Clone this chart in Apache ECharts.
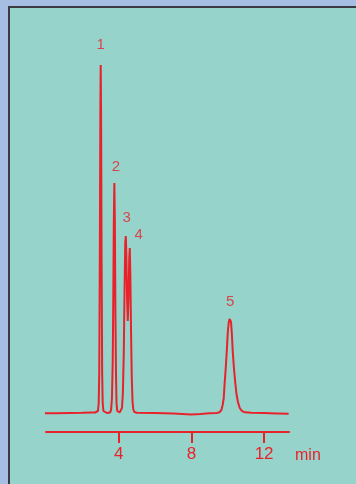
<!DOCTYPE html>
<html>
<head>
<meta charset="utf-8">
<script src="https://cdn.jsdelivr.net/npm/echarts@6/dist/echarts.min.js"></script>
<style>
html,body{margin:0;padding:0;width:356px;height:484px;overflow:hidden;background:#a6bee3;}
#panel{position:absolute;left:8px;top:6px;right:0;bottom:0;background:#96d4cb;border-left:2px solid #3a3a40;border-top:2px solid #3a3a40;}
#chart{position:absolute;left:0;top:0;width:356px;height:484px;}
</style>
</head>
<body>
<div id="panel"></div>
<div id="chart"></div>
<script>
// retention time (min)
var times = [-0.12,0.5,1.3,2.0,2.5,2.7,2.80,2.86,2.90,2.93,2.96,2.99,3.01,3.03,3.06,3.09,3.12,3.16,3.22,
  3.35,3.45,3.52,3.58,3.63,3.67,3.70,3.73,3.76,3.79,3.82,3.85,3.88,3.92,3.97,4.05,
  4.12,4.18,4.23,4.28,4.32,4.36,4.39,4.42,4.46,4.50,4.54,4.58,4.61,4.64,4.68,4.72,4.76,4.80,4.86,4.95,
  5.0,6.0,7.0,8.0,8.5,9.0,9.40,9.55,9.65,9.72,9.78,9.83,9.89,9.95,10.00,10.05,10.10,10.14,10.18,10.23,10.27,
  10.34,10.41,10.48,10.56,10.66,10.78,10.95,11.3,12.0,12.7,13.35];
// detector signal (arb. units)
var signal = [-0.3,-0.3,0,0.2,0.5,0.5,0.5,2,10,40,150,300,348,300,150,40,10,2,0,
  0,0.3,0.5,3,15,50,110,190,230,190,100,40,10,2,0.5,0.5,
  1,5,20,60,120,170,177,160,115,92,115,155,165,140,80,35,12,4,1,0.5,
  0.3,0,-0.5,-1.5,-1,-0.3,0,0.8,3,8,15,30,45,63,80,90,94,95,91,78,63,
  45,31,19,11,5,2,0.7,0.2,0,-0.4,-0.8];
var peakNames = ['1','2','3','4','5'];
var peakTimes = [3.01,3.76,4.39,4.61,10.14];
var peakHeights = [348,230,177,165,95];
var xTicks = [4,8,12];

var RED = '#e8222b';
var FONT = 'Liberation Sans, Arial, sans-serif';
var labelOffsets = [[0,-20],[1.5,-16],[1,-18],[9,-13],[0,-16]];

var lineData = times.map(function(t,i){return [t, signal[i]];});
var peakData = peakTimes.map(function(t,i){
  return {value:[t, peakHeights[i]], name:peakNames[i],
    label:{offset:labelOffsets[i]}};
});

var chart = echarts.init(document.getElementById('chart'), null, {renderer:'canvas'});
chart.setOption({
  animation:false,
  backgroundColor:'transparent',
  grid:{left:46, right:67, top:64, bottom:52, containLabel:false},
  xAxis:{
    type:'value', min:0, max:13.37,
    axisLine:{show:true, onZero:false, lineStyle:{color:RED, width:2}},
    axisTick:{show:true, inside:false, length:11, lineStyle:{color:RED, width:2}, customValues:xTicks},
    axisLabel:{color:RED, fontSize:17, fontFamily:FONT, margin:14, customValues:xTicks},
    splitLine:{show:false},
    name:'min', nameLocation:'end', nameGap:6,
    nameTextStyle:{color:RED, fontSize:16, fontFamily:FONT, verticalAlign:'top', padding:[16,0,0,0]}
  },
  yAxis:{type:'value', min:-19, max:349, show:false},
  series:[
    {type:'line', data:lineData, showSymbol:false, smooth:false, clip:false,
     lineStyle:{color:RED, width:2}, itemStyle:{color:RED}},
    {type:'scatter', data:peakData, symbolSize:0, silent:true, clip:false,
     label:{show:true, position:'inside', formatter:'{b}', color:RED, fontSize:15, fontFamily:FONT}}
  ]
});
</script>
</body>
</html>
